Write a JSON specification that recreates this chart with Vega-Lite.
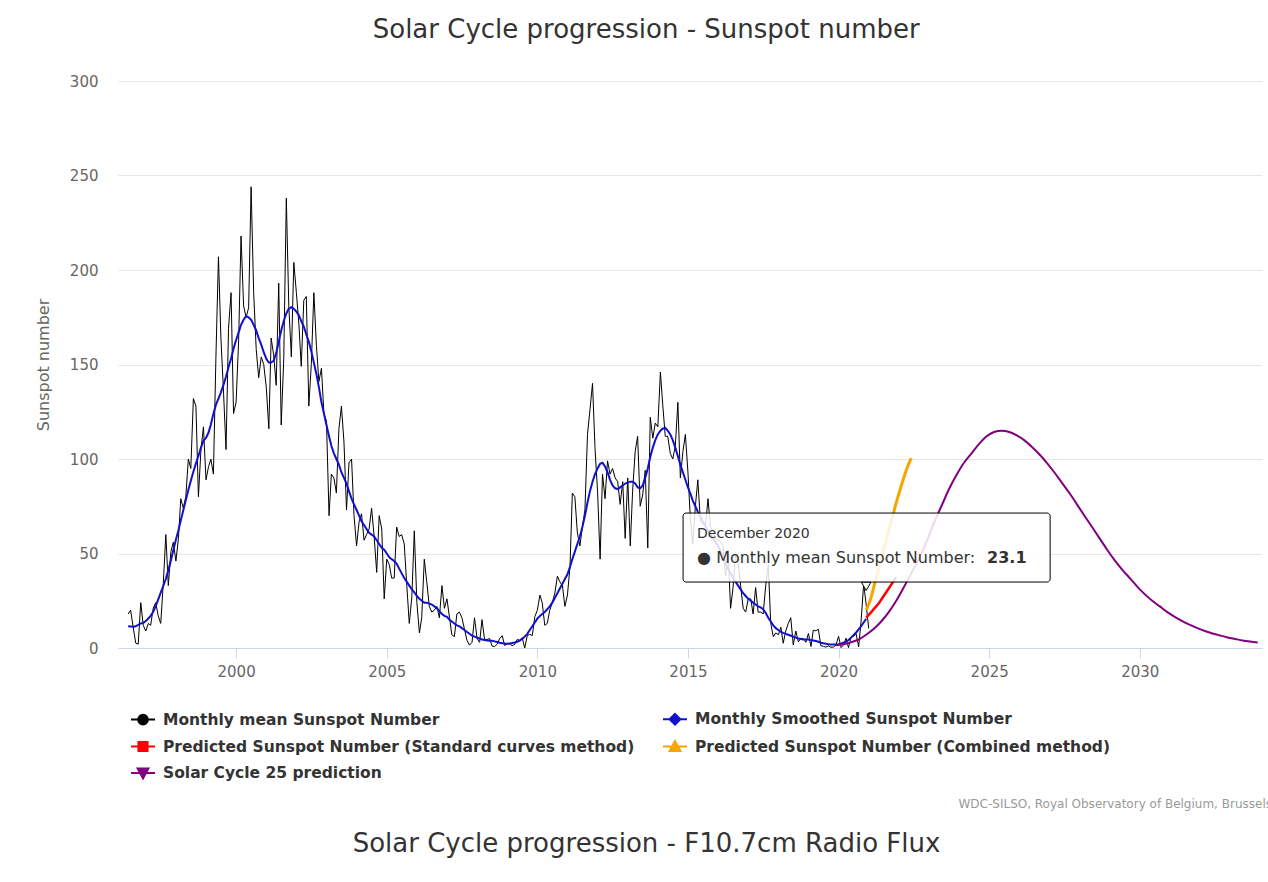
{
"$schema": "https://vega.github.io/schema/vega-lite/v6.json",
"background": "white",
"padding": {"left": 35, "top": 17, "right": 0, "bottom": 0},
"autosize": {"type": "pad"},
"config": {"view": {"stroke": null}, "font": "DejaVu Sans"},
"title": {"text": "Solar Cycle progression - Sunspot number", "font": "DejaVu Sans", "fontSize": 26, "fontWeight": "normal", "color": "#333333", "anchor": "middle", "frame": "bounds", "offset": 31, "dx": -42},
"spacing": 21,
"datasets": {
"mean": [
{"t":"1996-06","v":18},{"t":"1996-07","v":20},{"t":"1996-08","v":11},{"t":"1996-09","v":2.6},{"t":"1996-10","v":2},{"t":"1996-11","v":24},{"t":"1996-12","v":12},
{"t":"1997-01","v":9},{"t":"1997-02","v":13},{"t":"1997-03","v":12},{"t":"1997-04","v":21},{"t":"1997-05","v":24},{"t":"1997-06","v":17},{"t":"1997-07","v":13},{"t":"1997-08","v":34},{"t":"1997-09","v":60},{"t":"1997-10","v":33},{"t":"1997-11","v":51},{"t":"1997-12","v":56},
{"t":"1998-01","v":46},{"t":"1998-02","v":58},{"t":"1998-03","v":79},{"t":"1998-04","v":74},{"t":"1998-05","v":80},{"t":"1998-06","v":100},{"t":"1998-07","v":95},{"t":"1998-08","v":132},{"t":"1998-09","v":128},{"t":"1998-10","v":80},{"t":"1998-11","v":105},{"t":"1998-12","v":117},
{"t":"1999-01","v":89},{"t":"1999-02","v":96},{"t":"1999-03","v":100},{"t":"1999-04","v":92},{"t":"1999-05","v":153},{"t":"1999-06","v":207},{"t":"1999-07","v":164},{"t":"1999-08","v":136},{"t":"1999-09","v":105},{"t":"1999-10","v":169},{"t":"1999-11","v":188},{"t":"1999-12","v":124},
{"t":"2000-01","v":130},{"t":"2000-02","v":163},{"t":"2000-03","v":218},{"t":"2000-04","v":181},{"t":"2000-05","v":175},{"t":"2000-06","v":180},{"t":"2000-07","v":244},{"t":"2000-08","v":188},{"t":"2000-09","v":158},{"t":"2000-10","v":143},{"t":"2000-11","v":154},{"t":"2000-12","v":150},
{"t":"2001-01","v":138},{"t":"2001-02","v":116},{"t":"2001-03","v":164},{"t":"2001-04","v":155},{"t":"2001-05","v":139},{"t":"2001-06","v":193},{"t":"2001-07","v":118},{"t":"2001-08","v":153},{"t":"2001-09","v":238},{"t":"2001-10","v":181},{"t":"2001-11","v":154},{"t":"2001-12","v":204},
{"t":"2002-01","v":188},{"t":"2002-02","v":171},{"t":"2002-03","v":149},{"t":"2002-04","v":184},{"t":"2002-05","v":186},{"t":"2002-06","v":128},{"t":"2002-07","v":150},{"t":"2002-08","v":188},{"t":"2002-09","v":160},{"t":"2002-10","v":141},{"t":"2002-11","v":148},{"t":"2002-12","v":124},
{"t":"2003-01","v":120},{"t":"2003-02","v":70},{"t":"2003-03","v":92},{"t":"2003-04","v":90},{"t":"2003-05","v":82},{"t":"2003-06","v":116},{"t":"2003-07","v":128},{"t":"2003-08","v":109},{"t":"2003-09","v":73},{"t":"2003-10","v":98},{"t":"2003-11","v":100},{"t":"2003-12","v":70},
{"t":"2004-01","v":54},{"t":"2004-02","v":67},{"t":"2004-03","v":71},{"t":"2004-04","v":57},{"t":"2004-05","v":60},{"t":"2004-06","v":63},{"t":"2004-07","v":74},{"t":"2004-08","v":59},{"t":"2004-09","v":40},{"t":"2004-10","v":70},{"t":"2004-11","v":63},{"t":"2004-12","v":26},
{"t":"2005-01","v":47},{"t":"2005-02","v":44},{"t":"2005-03","v":37},{"t":"2005-04","v":37},{"t":"2005-05","v":64},{"t":"2005-06","v":59},{"t":"2005-07","v":60},{"t":"2005-08","v":55},{"t":"2005-09","v":33},{"t":"2005-10","v":13},{"t":"2005-11","v":27},{"t":"2005-12","v":62},
{"t":"2006-01","v":24},{"t":"2006-02","v":8},{"t":"2006-03","v":16},{"t":"2006-04","v":47},{"t":"2006-05","v":35},{"t":"2006-06","v":22},{"t":"2006-07","v":19},{"t":"2006-08","v":20},{"t":"2006-09","v":22},{"t":"2006-10","v":16},{"t":"2006-11","v":33},{"t":"2006-12","v":21},
{"t":"2007-01","v":26},{"t":"2007-02","v":16},{"t":"2007-03","v":7},{"t":"2007-04","v":6},{"t":"2007-05","v":18},{"t":"2007-06","v":19},{"t":"2007-07","v":16},{"t":"2007-08","v":10},{"t":"2007-09","v":4},{"t":"2007-10","v":1.5},{"t":"2007-11","v":3},{"t":"2007-12","v":16},
{"t":"2008-01","v":5},{"t":"2008-02","v":3},{"t":"2008-03","v":15},{"t":"2008-04","v":4.5},{"t":"2008-05","v":4.5},{"t":"2008-06","v":5},{"t":"2008-07","v":1},{"t":"2008-08","v":0.8},{"t":"2008-09","v":2},{"t":"2008-10","v":5},{"t":"2008-11","v":6.5},{"t":"2008-12","v":1.3},
{"t":"2009-01","v":2.3},{"t":"2009-02","v":2.2},{"t":"2009-03","v":1.2},{"t":"2009-04","v":1.9},{"t":"2009-05","v":4.5},{"t":"2009-06","v":4.1},{"t":"2009-07","v":5.5},{"t":"2009-08","v":0},{"t":"2009-09","v":6.6},{"t":"2009-10","v":7.2},{"t":"2009-11","v":6.6},{"t":"2009-12","v":16.5},
{"t":"2010-01","v":20},{"t":"2010-02","v":28},{"t":"2010-03","v":24},{"t":"2010-04","v":12},{"t":"2010-05","v":13},{"t":"2010-06","v":20},{"t":"2010-07","v":24},{"t":"2010-08","v":29},{"t":"2010-09","v":38},{"t":"2010-10","v":35},{"t":"2010-11","v":33},{"t":"2010-12","v":22},
{"t":"2011-01","v":28},{"t":"2011-02","v":43},{"t":"2011-03","v":82},{"t":"2011-04","v":80},{"t":"2011-05","v":61},{"t":"2011-06","v":54},{"t":"2011-07","v":64},{"t":"2011-08","v":73},{"t":"2011-09","v":113},{"t":"2011-10","v":126},{"t":"2011-11","v":140},{"t":"2011-12","v":106},
{"t":"2012-01","v":83},{"t":"2012-02","v":47},{"t":"2012-03","v":92},{"t":"2012-04","v":79},{"t":"2012-05","v":99},{"t":"2012-06","v":92},{"t":"2012-07","v":95},{"t":"2012-08","v":90},{"t":"2012-09","v":88},{"t":"2012-10","v":76},{"t":"2012-11","v":88},{"t":"2012-12","v":58},
{"t":"2013-01","v":90},{"t":"2013-02","v":54},{"t":"2013-03","v":83},{"t":"2013-04","v":104},{"t":"2013-05","v":112},{"t":"2013-06","v":75},{"t":"2013-07","v":81},{"t":"2013-08","v":94},{"t":"2013-09","v":53},{"t":"2013-10","v":122},{"t":"2013-11","v":111},{"t":"2013-12","v":119},
{"t":"2014-01","v":117},{"t":"2014-02","v":146},{"t":"2014-03","v":129},{"t":"2014-04","v":112},{"t":"2014-05","v":112},{"t":"2014-06","v":103},{"t":"2014-07","v":100},{"t":"2014-08","v":107},{"t":"2014-09","v":130},{"t":"2014-10","v":90},{"t":"2014-11","v":104},{"t":"2014-12","v":113},
{"t":"2015-01","v":93},{"t":"2015-02","v":67},{"t":"2015-03","v":55},{"t":"2015-04","v":75},{"t":"2015-05","v":89},{"t":"2015-06","v":67},{"t":"2015-07","v":66},{"t":"2015-08","v":64},{"t":"2015-09","v":79},{"t":"2015-10","v":64},{"t":"2015-11","v":62},{"t":"2015-12","v":58},
{"t":"2016-01","v":57},{"t":"2016-02","v":56},{"t":"2016-03","v":54},{"t":"2016-04","v":38},{"t":"2016-05","v":52},{"t":"2016-06","v":21},{"t":"2016-07","v":32},{"t":"2016-08","v":50},{"t":"2016-09","v":45},{"t":"2016-10","v":33},{"t":"2016-11","v":21},{"t":"2016-12","v":19},
{"t":"2017-01","v":26},{"t":"2017-02","v":26},{"t":"2017-03","v":18},{"t":"2017-04","v":32},{"t":"2017-05","v":19},{"t":"2017-06","v":19},{"t":"2017-07","v":18},{"t":"2017-08","v":33},{"t":"2017-09","v":44},{"t":"2017-10","v":13},{"t":"2017-11","v":6},{"t":"2017-12","v":8},
{"t":"2018-01","v":7},{"t":"2018-02","v":11},{"t":"2018-03","v":2.5},{"t":"2018-04","v":9},{"t":"2018-05","v":13},{"t":"2018-06","v":16},{"t":"2018-07","v":1.6},{"t":"2018-08","v":9},{"t":"2018-09","v":3.3},{"t":"2018-10","v":5},{"t":"2018-11","v":5},{"t":"2018-12","v":3},
{"t":"2019-01","v":7.7},{"t":"2019-02","v":0.8},{"t":"2019-03","v":9.4},{"t":"2019-04","v":9.1},{"t":"2019-05","v":9.9},{"t":"2019-06","v":1.2},{"t":"2019-07","v":0.9},{"t":"2019-08","v":0.5},{"t":"2019-09","v":1.1},{"t":"2019-10","v":0.4},{"t":"2019-11","v":0.5},{"t":"2019-12","v":1.5},
{"t":"2020-01","v":6.2},{"t":"2020-02","v":0.2},{"t":"2020-03","v":1.5},{"t":"2020-04","v":5.2},{"t":"2020-05","v":0.2},{"t":"2020-06","v":5.8},{"t":"2020-07","v":6.1},{"t":"2020-08","v":7.5},{"t":"2020-09","v":0.6},{"t":"2020-10","v":14.4},{"t":"2020-11","v":34},{"t":"2020-12","v":23.1},
{"t":"2021-01","v":10.4}
],
"smooth": [
{"t":"1996-06","v":11.5},{"t":"1996-07","v":11.4},{"t":"1996-08","v":11.2},{"t":"1996-09","v":11.5},{"t":"1996-10","v":12.3},{"t":"1996-11","v":13},{"t":"1996-12","v":13.3},
{"t":"1997-01","v":14.3},{"t":"1997-02","v":15.6},{"t":"1997-03","v":17},{"t":"1997-04","v":19.2},{"t":"1997-05","v":22.1},{"t":"1997-06","v":25.7},{"t":"1997-07","v":29.3},{"t":"1997-08","v":32.8},{"t":"1997-09","v":36.5},{"t":"1997-10","v":41.2},{"t":"1997-11","v":46.2},{"t":"1997-12","v":51.8},
{"t":"1998-01","v":57.3},{"t":"1998-02","v":62.3},{"t":"1998-03","v":67.5},{"t":"1998-04","v":72.9},{"t":"1998-05","v":78.3},{"t":"1998-06","v":83.6},{"t":"1998-07","v":88.5},{"t":"1998-08","v":93.3},{"t":"1998-09","v":97.7},{"t":"1998-10","v":101.6},{"t":"1998-11","v":106},{"t":"1998-12","v":109.6},
{"t":"1999-01","v":111.1},{"t":"1999-02","v":114},{"t":"1999-03","v":118.3},{"t":"1999-04","v":124},{"t":"1999-05","v":128.6},{"t":"1999-06","v":132},{"t":"1999-07","v":135.3},{"t":"1999-08","v":139.2},{"t":"1999-09","v":143.6},{"t":"1999-10","v":148.5},{"t":"1999-11","v":153},{"t":"1999-12","v":158.4},
{"t":"2000-01","v":163},{"t":"2000-02","v":167},{"t":"2000-03","v":171},{"t":"2000-04","v":173.7},{"t":"2000-05","v":175.6},{"t":"2000-06","v":174.9},{"t":"2000-07","v":173.6},{"t":"2000-08","v":171},{"t":"2000-09","v":168},{"t":"2000-10","v":164},{"t":"2000-11","v":160.5},{"t":"2000-12","v":156.5},
{"t":"2001-01","v":153},{"t":"2001-02","v":151},{"t":"2001-03","v":151},{"t":"2001-04","v":152},{"t":"2001-05","v":156},{"t":"2001-06","v":162},{"t":"2001-07","v":168},{"t":"2001-08","v":173},{"t":"2001-09","v":177},{"t":"2001-10","v":179.5},{"t":"2001-11","v":180.3},{"t":"2001-12","v":179.5},
{"t":"2002-01","v":178},{"t":"2002-02","v":176},{"t":"2002-03","v":173},{"t":"2002-04","v":170},{"t":"2002-05","v":166},{"t":"2002-06","v":162},{"t":"2002-07","v":157},{"t":"2002-08","v":151},{"t":"2002-09","v":145},{"t":"2002-10","v":138},{"t":"2002-11","v":130},{"t":"2002-12","v":124},
{"t":"2003-01","v":118},{"t":"2003-02","v":112},{"t":"2003-03","v":107},{"t":"2003-04","v":103},{"t":"2003-05","v":100},{"t":"2003-06","v":97},{"t":"2003-07","v":93},{"t":"2003-08","v":90},{"t":"2003-09","v":87},{"t":"2003-10","v":83},{"t":"2003-11","v":79},{"t":"2003-12","v":76},
{"t":"2004-01","v":73},{"t":"2004-02","v":70},{"t":"2004-03","v":67},{"t":"2004-04","v":65},{"t":"2004-05","v":63},{"t":"2004-06","v":61},{"t":"2004-07","v":60},{"t":"2004-08","v":59},{"t":"2004-09","v":57},{"t":"2004-10","v":55},{"t":"2004-11","v":53},{"t":"2004-12","v":52},
{"t":"2005-01","v":50},{"t":"2005-02","v":48},{"t":"2005-03","v":47},{"t":"2005-04","v":46},{"t":"2005-05","v":44.5},{"t":"2005-06","v":42},{"t":"2005-07","v":39.5},{"t":"2005-08","v":37},{"t":"2005-09","v":35},{"t":"2005-10","v":33},{"t":"2005-11","v":31},{"t":"2005-12","v":29.5},
{"t":"2006-01","v":27.5},{"t":"2006-02","v":26},{"t":"2006-03","v":25},{"t":"2006-04","v":24},{"t":"2006-05","v":24},{"t":"2006-06","v":23.5},{"t":"2006-07","v":23},{"t":"2006-08","v":22},{"t":"2006-09","v":21},{"t":"2006-10","v":19.5},{"t":"2006-11","v":18},{"t":"2006-12","v":17},
{"t":"2007-01","v":16.5},{"t":"2007-02","v":15},{"t":"2007-03","v":14},{"t":"2007-04","v":13},{"t":"2007-05","v":12},{"t":"2007-06","v":11.5},{"t":"2007-07","v":10.5},{"t":"2007-08","v":9.5},{"t":"2007-09","v":8.5},{"t":"2007-10","v":7.5},{"t":"2007-11","v":6.5},{"t":"2007-12","v":6},
{"t":"2008-01","v":5.5},{"t":"2008-02","v":5},{"t":"2008-03","v":4.5},{"t":"2008-04","v":4.2},{"t":"2008-05","v":4},{"t":"2008-06","v":3.9},{"t":"2008-07","v":3.8},{"t":"2008-08","v":3.5},{"t":"2008-09","v":3.2},{"t":"2008-10","v":2.8},{"t":"2008-11","v":2.5},{"t":"2008-12","v":2.2},
{"t":"2009-01","v":2.2},{"t":"2009-02","v":2.4},{"t":"2009-03","v":2.6},{"t":"2009-04","v":2.9},{"t":"2009-05","v":3.3},{"t":"2009-06","v":3.9},{"t":"2009-07","v":4.8},{"t":"2009-08","v":6},{"t":"2009-09","v":7.5},{"t":"2009-10","v":9.5},{"t":"2009-11","v":11.5},{"t":"2009-12","v":13.5},
{"t":"2010-01","v":15.5},{"t":"2010-02","v":17},{"t":"2010-03","v":18},{"t":"2010-04","v":19},{"t":"2010-05","v":20.5},{"t":"2010-06","v":22},{"t":"2010-07","v":24},{"t":"2010-08","v":26.5},{"t":"2010-09","v":29},{"t":"2010-10","v":31.5},{"t":"2010-11","v":34},{"t":"2010-12","v":36.5},
{"t":"2011-01","v":39},{"t":"2011-02","v":43},{"t":"2011-03","v":47},{"t":"2011-04","v":51},{"t":"2011-05","v":55},{"t":"2011-06","v":59},{"t":"2011-07","v":64},{"t":"2011-08","v":70},{"t":"2011-09","v":77},{"t":"2011-10","v":83},{"t":"2011-11","v":88},{"t":"2011-12","v":92},
{"t":"2012-01","v":95},{"t":"2012-02","v":97.5},{"t":"2012-03","v":98},{"t":"2012-04","v":96},{"t":"2012-05","v":93},{"t":"2012-06","v":89},{"t":"2012-07","v":86},{"t":"2012-08","v":84.5},{"t":"2012-09","v":84},{"t":"2012-10","v":85},{"t":"2012-11","v":86},{"t":"2012-12","v":87},
{"t":"2013-01","v":87.5},{"t":"2013-02","v":88},{"t":"2013-03","v":88},{"t":"2013-04","v":87},{"t":"2013-05","v":85},{"t":"2013-06","v":84.5},{"t":"2013-07","v":86},{"t":"2013-08","v":90},{"t":"2013-09","v":95},{"t":"2013-10","v":101},{"t":"2013-11","v":106},{"t":"2013-12","v":110},
{"t":"2014-01","v":113},{"t":"2014-02","v":115},{"t":"2014-03","v":116},{"t":"2014-04","v":116.4},{"t":"2014-05","v":115},{"t":"2014-06","v":113},{"t":"2014-07","v":110},{"t":"2014-08","v":106},{"t":"2014-09","v":101.5},{"t":"2014-10","v":97},{"t":"2014-11","v":93},{"t":"2014-12","v":89},
{"t":"2015-01","v":85},{"t":"2015-02","v":81.5},{"t":"2015-03","v":78},{"t":"2015-04","v":75},{"t":"2015-05","v":72},{"t":"2015-06","v":69.5},{"t":"2015-07","v":67},{"t":"2015-08","v":64.5},{"t":"2015-09","v":62},{"t":"2015-10","v":60},{"t":"2015-11","v":58},{"t":"2015-12","v":56},
{"t":"2016-01","v":54},{"t":"2016-02","v":51},{"t":"2016-03","v":48},{"t":"2016-04","v":45},{"t":"2016-05","v":42},{"t":"2016-06","v":39.5},{"t":"2016-07","v":37},{"t":"2016-08","v":35},{"t":"2016-09","v":33},{"t":"2016-10","v":31},{"t":"2016-11","v":29},{"t":"2016-12","v":27.5},
{"t":"2017-01","v":26},{"t":"2017-02","v":25},{"t":"2017-03","v":24},{"t":"2017-04","v":23},{"t":"2017-05","v":22},{"t":"2017-06","v":21.5},{"t":"2017-07","v":20.5},{"t":"2017-08","v":18.5},{"t":"2017-09","v":16},{"t":"2017-10","v":14},{"t":"2017-11","v":12},{"t":"2017-12","v":10.5},
{"t":"2018-01","v":9.5},{"t":"2018-02","v":8.5},{"t":"2018-03","v":8},{"t":"2018-04","v":7.5},{"t":"2018-05","v":7},{"t":"2018-06","v":6.5},{"t":"2018-07","v":6},{"t":"2018-08","v":5.5},{"t":"2018-09","v":5},{"t":"2018-10","v":4.8},{"t":"2018-11","v":4.5},{"t":"2018-12","v":4.5},
{"t":"2019-01","v":4.5},{"t":"2019-02","v":4.2},{"t":"2019-03","v":4},{"t":"2019-04","v":3.7},{"t":"2019-05","v":3.3},{"t":"2019-06","v":2.8},{"t":"2019-07","v":2.5},{"t":"2019-08","v":2.2},{"t":"2019-09","v":2},{"t":"2019-10","v":1.9},{"t":"2019-11","v":1.8},{"t":"2019-12","v":1.8},
{"t":"2020-01","v":2},{"t":"2020-02","v":2.3},{"t":"2020-03","v":2.8},{"t":"2020-04","v":3.4},{"t":"2020-05","v":4.2},{"t":"2020-06","v":5.5},{"t":"2020-07","v":6.8},{"t":"2020-08","v":8.2},{"t":"2020-09","v":9.8},{"t":"2020-10","v":11.5},{"t":"2020-11","v":13.5},{"t":"2020-12","v":15.5}
],
"standard": [
{"t":"2020-12","v":16},{"t":"2021-01","v":17.5},{"t":"2021-02","v":19},{"t":"2021-03","v":20.5},{"t":"2021-04","v":22},{"t":"2021-05","v":23.5},{"t":"2021-06","v":25.5},{"t":"2021-07","v":27.5},{"t":"2021-08","v":29.5},{"t":"2021-09","v":31.5},{"t":"2021-10","v":33.5},{"t":"2021-11","v":35.5},{"t":"2021-12","v":37.5}
],
"combined": [
{"t":"2020-12","v":20},{"t":"2021-01","v":23},{"t":"2021-02","v":27},{"t":"2021-03","v":32},{"t":"2021-04","v":37},{"t":"2021-05","v":42},{"t":"2021-06","v":47},{"t":"2021-07","v":52},{"t":"2021-08","v":57},{"t":"2021-09","v":62},{"t":"2021-10","v":67},{"t":"2021-11","v":72},{"t":"2021-12","v":77},{"t":"2022-01","v":81.5},{"t":"2022-02","v":86},{"t":"2022-03","v":90},{"t":"2022-04","v":94},{"t":"2022-05","v":97.5},{"t":"2022-06","v":100.5}
],
"cycle25": [
{"t":"2019-12","v":1.5},{"t":"2020-03","v":2},{"t":"2020-06","v":3},{"t":"2020-09","v":4.5},{"t":"2020-12","v":7},
{"t":"2021-03","v":10},{"t":"2021-06","v":14},{"t":"2021-09","v":19},{"t":"2021-12","v":25},
{"t":"2022-03","v":32},{"t":"2022-06","v":39.5},{"t":"2022-09","v":47},{"t":"2022-12","v":56},
{"t":"2023-03","v":66},{"t":"2023-06","v":75},{"t":"2023-09","v":84},{"t":"2023-12","v":91.5},
{"t":"2024-03","v":98},{"t":"2024-06","v":103},{"t":"2024-09","v":108},{"t":"2024-12","v":112},
{"t":"2025-03","v":114.3},{"t":"2025-06","v":115},{"t":"2025-09","v":114.3},{"t":"2025-12","v":112.5},
{"t":"2026-03","v":110},{"t":"2026-06","v":106.5},{"t":"2026-09","v":102.5},{"t":"2026-12","v":98},
{"t":"2027-03","v":93},{"t":"2027-06","v":87.5},{"t":"2027-09","v":82},{"t":"2027-12","v":76},
{"t":"2028-03","v":70},{"t":"2028-06","v":64},{"t":"2028-09","v":58},{"t":"2028-12","v":52},
{"t":"2029-03","v":46.5},{"t":"2029-06","v":41.5},{"t":"2029-09","v":37},{"t":"2029-12","v":32.5},
{"t":"2030-03","v":28.5},{"t":"2030-06","v":25},{"t":"2030-09","v":22},{"t":"2030-12","v":19},
{"t":"2031-03","v":16.5},{"t":"2031-06","v":14.2},{"t":"2031-09","v":12.2},{"t":"2031-12","v":10.5},
{"t":"2032-03","v":9},{"t":"2032-06","v":7.7},{"t":"2032-09","v":6.6},{"t":"2032-12","v":5.6},
{"t":"2033-03","v":4.8},{"t":"2033-06","v":4},{"t":"2033-09","v":3.4},{"t":"2033-12","v":2.9}
]
},
"vconcat": [
{
"width": 1144,
"height": 567,
"title": {"text": "WDC-SILSO, Royal Observatory of Belgium, Brussels", "orient": "bottom", "anchor": "end", "frame": "group", "fontSize": 12, "fontWeight": "normal", "color": "#999999", "offset": 120, "dx": 10},
"layer": [
{
"data": {"name": "mean"},
"mark": {"type": "line", "strokeWidth": 1},
"encoding": {
"x": {"field": "t", "type": "temporal",
"scale": {"domain": [{"year": 1996, "month": 1, "date": 30}, {"year": 2034, "month": 1, "date": 22}]},
"axis": {"title": null, "format": "%Y", "tickCount": {"interval": "year", "step": 5}, "grid": false, "domainColor": "#ccd6eb", "tickColor": "#ccd6eb", "tickSize": 10, "labelColor": "#666666", "labelFontSize": 15, "labelPadding": 6, "labelFont": "DejaVu Sans"}},
"y": {"field": "v", "type": "quantitative",
"scale": {"domain": [0, 300], "nice": false},
"axis": {"title": "Sunspot number", "titleColor": "#666666", "titleFontSize": 16, "titleFontWeight": "normal", "titleFont": "DejaVu Sans", "titlePadding": 18, "labelColor": "#666666", "labelFontSize": 15, "labelFont": "DejaVu Sans", "labelPadding": 20, "ticks": false, "domain": false, "gridColor": "#e6e6e6", "values": [0, 50, 100, 150, 200, 250, 300]}},
"color": {"datum": "Monthly mean Sunspot Number",
"scale": {"domain": ["Monthly mean Sunspot Number", "Predicted Sunspot Number (Standard curves method)", "Solar Cycle 25 prediction", "Monthly Smoothed Sunspot Number", "Predicted Sunspot Number (Combined method)"], "range": ["#000000", "#ff0000", "#800080", "#1111cc", "#f7a600"]},
"legend": {"orient": "none", "legendX": 12, "legendY": 625, "columns": 2, "title": null, "padding": 0, "labelFont": "DejaVu Sans", "labelFontSize": 15.5, "labelFontWeight": "bold", "labelColor": "#333333", "symbolSize": 576, "symbolStrokeWidth": 2, "columnPadding": 24, "rowPadding": 4.5, "labelOffset": 7, "labelLimit": 1000,
"encode": {"symbols": {"update": {
"shape": {"signal": "['M-1,0H1M-0.4,0A0.4,0.4 0 1,0 0.4,0A0.4,0.4 0 1,0 -0.4,0Z','M-1,0H1M0,-0.45L0.45,0L0,0.45L-0.45,0Z','M-1,0H1M-0.38,-0.38H0.38V0.38H-0.38Z','M-1,0H1M0,-0.45L0.45,0.38H-0.45Z','M-1,0H1M-0.45,-0.38H0.45L0,0.45Z'][indexof(['Monthly mean Sunspot Number','Monthly Smoothed Sunspot Number','Predicted Sunspot Number (Standard curves method)','Predicted Sunspot Number (Combined method)','Solar Cycle 25 prediction'], datum.value)]"},
"fill": {"signal": "['#000000','#1111cc','#ff0000','#f7a600','#800080'][indexof(['Monthly mean Sunspot Number','Monthly Smoothed Sunspot Number','Predicted Sunspot Number (Standard curves method)','Predicted Sunspot Number (Combined method)','Solar Cycle 25 prediction'], datum.value)]"},
"stroke": {"signal": "['#000000','#1111cc','#ff0000','#f7a600','#800080'][indexof(['Monthly mean Sunspot Number','Monthly Smoothed Sunspot Number','Predicted Sunspot Number (Standard curves method)','Predicted Sunspot Number (Combined method)','Solar Cycle 25 prediction'], datum.value)]"},
"strokeWidth": {"value": 2},
"size": {"value": 576},
"opacity": {"value": 1}
}}}}
}
}
},
{
"data": {"name": "smooth"},
"mark": {"type": "line", "strokeWidth": 2},
"encoding": {
"x": {"field": "t", "type": "temporal"},
"y": {"field": "v", "type": "quantitative"},
"color": {"datum": "Monthly Smoothed Sunspot Number"}
}
},
{
"data": {"name": "standard"},
"mark": {"type": "line", "strokeWidth": 2.5},
"encoding": {
"x": {"field": "t", "type": "temporal"},
"y": {"field": "v", "type": "quantitative"},
"color": {"datum": "Predicted Sunspot Number (Standard curves method)"}
}
},
{
"data": {"name": "combined"},
"mark": {"type": "line", "strokeWidth": 3},
"encoding": {
"x": {"field": "t", "type": "temporal"},
"y": {"field": "v", "type": "quantitative"},
"color": {"datum": "Predicted Sunspot Number (Combined method)"}
}
},
{
"data": {"name": "cycle25"},
"mark": {"type": "line", "strokeWidth": 2, "interpolate": "monotone"},
"encoding": {
"x": {"field": "t", "type": "temporal"},
"y": {"field": "v", "type": "quantitative"},
"color": {"datum": "Solar Cycle 25 prediction"}
}
},
{
"data": {"values": [{}]},
"mark": {"type": "rect", "fill": "white", "fillOpacity": 0.85, "stroke": "#000000", "strokeWidth": 1, "cornerRadius": 3},
"encoding": {
"x": {"datum": {"year": 2014, "month": 11, "date": 3}, "type": "temporal"},
"x2": {"datum": {"year": 2027, "month": 1, "date": 10}},
"y": {"datum": 71.4, "type": "quantitative"},
"y2": {"datum": 34.9}
}
},
{
"data": {"values": [{}]},
"mark": {"type": "point", "shape": "triangle-down", "filled": true, "fill": "white", "stroke": "#000000", "strokeWidth": 1, "size": 90, "opacity": 1},
"encoding": {
"x": {"datum": {"year": 2020, "month": 12, "date": 1}, "type": "temporal"},
"y": {"datum": 32.6, "type": "quantitative"}
}
},
{
"data": {"values": [{}]},
"mark": {"type": "text", "align": "left", "baseline": "alphabetic", "fontSize": 14, "color": "#333333", "font": "DejaVu Sans"},
"encoding": {
"x": {"datum": {"year": 2015, "month": 4, "date": 22}, "type": "temporal"},
"y": {"datum": 58, "type": "quantitative"},
"text": {"value": "December 2020"}
}
},
{
"data": {"values": [{}]},
"mark": {"type": "text", "align": "left", "baseline": "alphabetic", "fontSize": 16, "color": "#333333", "font": "DejaVu Sans"},
"encoding": {
"x": {"datum": {"year": 2015, "month": 4, "date": 22}, "type": "temporal"},
"y": {"datum": 45, "type": "quantitative"},
"text": {"value": "● Monthly mean Sunspot Number: "}
}
},
{
"data": {"values": [{}]},
"mark": {"type": "text", "align": "left", "baseline": "alphabetic", "fontSize": 16, "fontWeight": "bold", "color": "#333333", "font": "DejaVu Sans"},
"encoding": {
"x": {"datum": {"year": 2024, "month": 12, "date": 6}, "type": "temporal"},
"y": {"datum": 45, "type": "quantitative"},
"text": {"value": "23.1"}
}
}
]
},
{
"width": 1223,
"height": 10,
"title": {"text": "Solar Cycle progression - F10.7cm Radio Flux", "font": "DejaVu Sans", "fontSize": 26, "fontWeight": "normal", "color": "#333333", "anchor": "middle", "frame": "group", "offset": 0, "dx": -83},
"data": {"values": [{}]},
"mark": {"type": "text"},
"encoding": {"text": {"value": ""}}
}
]
}
